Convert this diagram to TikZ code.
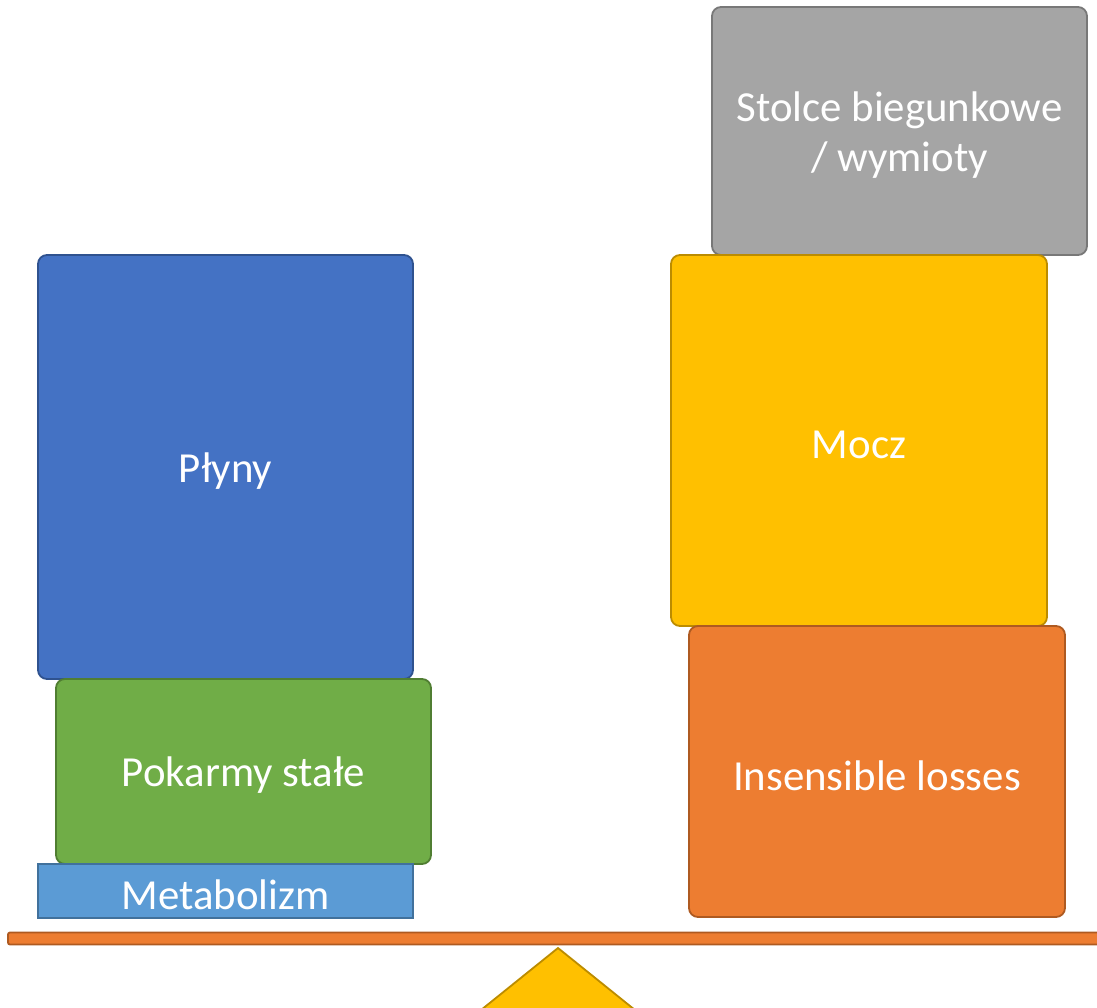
\documentclass[tikz,border=0pt]{standalone}
\usepackage{fontspec}
\setmainfont{Carlito}
\definecolor{bluef}{HTML}{4472C4}\definecolor{blued}{HTML}{2F528F}
\definecolor{greenf}{HTML}{70AD47}\definecolor{greend}{HTML}{507E32}
\definecolor{lbluef}{HTML}{5B9BD5}\definecolor{lblued}{HTML}{41719C}
\definecolor{yelf}{HTML}{FFC000}\definecolor{yeld}{HTML}{BC8C00}
\definecolor{oraf}{HTML}{ED7D31}\definecolor{orad}{HTML}{AE5A21}
\definecolor{grayf}{HTML}{A5A5A5}\definecolor{grayd}{HTML}{787878}
\tikzset{
  blockbox/.style n args={2}{draw=#2, fill=#1, line width=1.8bp, rounded corners=9bp,
    inner sep=0pt},
  lbl/.style={text=white, align=center, inner sep=0pt, yshift=-4bp,
    font=\fontsize{43}{51}\selectfont},
}
\begin{document}
\begin{tikzpicture}[x=1bp,y=-1bp]
\useasboundingbox (0,0) rectangle (1097,1008);
% left stack
\node[blockbox={bluef}{blued}, minimum width=375bp, minimum height=424bp,
  label={[lbl]center:Płyny}] (plyny) at (225.5,467) {};
\node[blockbox={greenf}{greend}, minimum width=375bp, minimum height=185bp,
  label={[lbl]center:Pokarmy stałe}] (pokarmy) at (243.5,771.5) {};
\node[blockbox={lbluef}{lblued}, rounded corners=0pt, minimum width=375bp, minimum height=54bp,
  label={[lbl]center:Metabolizm}] (metab) at (225.5,891) {};
% right stack
\node[blockbox={grayf}{grayd}, minimum width=375bp, minimum height=248bp,
  label={[lbl]center:Stolce biegunkowe\\/ wymioty}] (stolce) at (899.5,131) {};
\node[blockbox={yelf}{yeld}, minimum width=376bp, minimum height=371bp,
  label={[lbl]center:Mocz}] (mocz) at (859,440.5) {};
\node[blockbox={oraf}{orad}, minimum width=376bp, minimum height=291bp,
  label={[lbl]center:Insensible losses}] (insens) at (877,771.5) {};
% beam and fulcrum
\draw[fill=oraf, draw=orad, line width=1.8bp, rounded corners=2bp] (8,932.5) rectangle (1110,944.5);
\draw[fill=yelf, draw=yeld, line width=1.8bp] (558,948) -- (635,1010) -- (481,1010) -- cycle;
\end{tikzpicture}
\end{document}
